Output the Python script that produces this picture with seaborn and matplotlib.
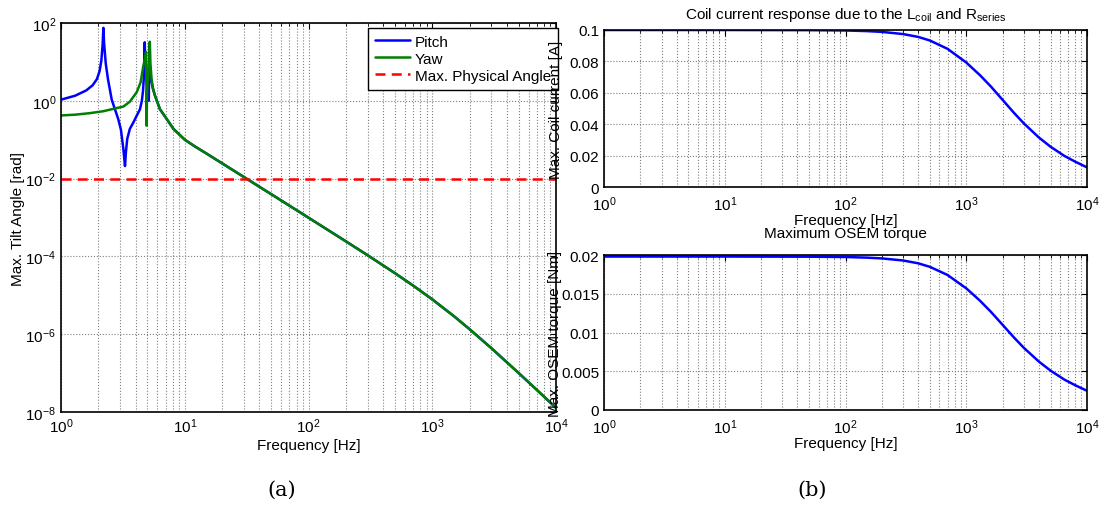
import numpy as np
import matplotlib
matplotlib.use('Agg')
import matplotlib.pyplot as plt
import seaborn as sns
from matplotlib.ticker import LogLocator, NullLocator, NullFormatter

# --- data ---
pitch_freq_low = [1.0, 1.3, 1.6, 1.8, 1.95, 2.05, 2.12, 2.17, 2.2, 2.23, 2.3, 2.4,
                  2.57, 2.9, 3.05, 3.19, 3.29, 3.35, 3.43, 3.6, 3.85, 4.1, 4.35, 4.5,
                  4.6, 4.67, 4.72, 4.75, 4.78, 4.85, 4.95, 5.05, 5.12, 5.15, 5.17,
                  5.2, 5.3, 5.5, 5.75, 6.3, 7.15, 8.1]
pitch_low = [1.07, 1.35, 1.85, 2.5, 3.6, 5.8, 11, 28, 75, 30, 9, 3.5,
             1.07, 0.34, 0.18, 0.058, 0.021, 0.05, 0.105, 0.19, 0.28, 0.42, 0.61, 1.0,
             1.8, 4, 12, 32, 12, 5, 2.5, 1.5, 1.0, 8, 30,
             10, 4, 2.2, 1.35, 0.61, 0.34, 0.19]

yaw_freq_low = [1.0, 1.3, 1.7, 2.2, 2.7, 3.19, 3.6, 4.09, 4.4, 4.63, 4.78, 4.87,
                4.9, 4.92, 4.95, 5.05, 5.15, 5.22, 5.28, 5.4, 5.55, 5.75, 6.3,
                7.15, 8.1]
yaw_low = [0.42, 0.44, 0.48, 0.54, 0.63, 0.71, 0.95, 1.66, 3.0, 7.9, 13, 18,
           3, 0.23, 1.5, 4, 9, 33, 9, 3.5, 2.0, 1.35, 0.61,
           0.34, 0.19]

tail_freq = [10, 12, 15, 20, 31.5, 50, 100, 200, 300, 500, 700, 1000, 1500,
             2000, 3000, 5000, 7000, 10000]
tail_angle = [0.1, 0.068, 0.044, 0.0248, 0.01, 0.00397, 9.89e-4, 2.45e-4,
              1.074e-4, 3.70e-5, 1.78e-5, 7.87e-6, 2.89e-6, 1.35e-6, 4.39e-7,
              1.0e-7, 3.7e-8, 1.28e-8]

max_angle = 0.01

coil_freq = [1, 10, 50, 100, 150, 200, 300, 400, 500, 700, 1000, 1300, 1600,
             2000, 2500, 3000, 4000, 5000, 6500, 8000, 10000]
coil_current = [0.1, 0.1, 0.0999, 0.0997, 0.0993, 0.0988, 0.0974, 0.0956,
                0.0933, 0.0880, 0.0793, 0.0712, 0.0640, 0.0555, 0.0470, 0.0405,
                0.0315, 0.0256, 0.0198, 0.0161, 0.0125]
osem_torque = [0.0198, 0.0198, 0.01978, 0.01974, 0.01966, 0.01956, 0.01929,
               0.01893, 0.01847, 0.01742, 0.0157, 0.0141, 0.01267, 0.01099,
               0.00931, 0.00802, 0.00624, 0.00507, 0.00392, 0.00319, 0.00248]

pitch_freq = pitch_freq_low + tail_freq
pitch_angle = pitch_low + tail_angle
yaw_freq = yaw_freq_low + tail_freq
yaw_angle = yaw_low + tail_angle

# --- style ---
sns.set_style('white')
plt.rcParams['font.family'] = ['Liberation Sans', 'DejaVu Sans']
plt.rcParams['mathtext.fontset'] = 'custom'
plt.rcParams['mathtext.rm'] = 'Liberation Sans'
plt.rcParams['mathtext.it'] = 'Liberation Sans:italic'
plt.rcParams['mathtext.bf'] = 'Liberation Sans:bold'
plt.rcParams['font.size'] = 11
plt.rcParams['text.color'] = 'black'
plt.rcParams['axes.labelcolor'] = 'black'
plt.rcParams['xtick.color'] = 'black'
plt.rcParams['ytick.color'] = 'black'


def style_axes(ax, xpad=2, tickpad=3.5):
    for s in ax.spines.values():
        s.set_color('black')
        s.set_linewidth(1.2)
    ax.set_xscale('log')
    ax.set_xlim(1, 1e4)
    ax.set_xticks([1, 10, 100, 1000, 10000])
    ax.xaxis.set_minor_locator(LogLocator(base=10, subs=np.arange(2, 10), numticks=20))
    ax.xaxis.set_minor_formatter(NullFormatter())
    ax.tick_params(which='both', direction='in', top=True, right=True, labelsize=11)
    ax.tick_params(which='major', length=4, width=0.8)
    ax.tick_params(which='minor', length=2, width=0.6)
    ax.tick_params(axis='x', which='major', pad=tickpad)
    ax.grid(True, which='major', ls=':', color='0.5', lw=0.8)
    ax.xaxis.grid(True, which='minor', ls=':', color='0.5', lw=0.8)
    ax.set_xlabel('Frequency [Hz]', fontsize=11, labelpad=xpad)


fig = plt.figure(figsize=(11.02, 5.10), dpi=100)

# (a) tilt angle
ax1 = fig.add_axes([61 / 1102, 1 - 413 / 510, 495 / 1102, 389 / 510])
sns.lineplot(x=pitch_freq, y=pitch_angle, ax=ax1, color='#0000FF', lw=1.8, label='Pitch')
sns.lineplot(x=yaw_freq, y=yaw_angle, ax=ax1, color='#008000', lw=1.8, label='Yaw')
ax1.axhline(max_angle, color='#FF0000', ls='--', lw=1.8, dashes=(4, 2.5),
            label='Max. Physical Angle')
style_axes(ax1)
ax1.set_yscale('log')
ax1.set_ylim(1e-8, 1e2)
ax1.set_yticks([1e-8, 1e-6, 1e-4, 1e-2, 1e0, 1e2])
ax1.yaxis.set_minor_locator(NullLocator())
ax1.set_ylabel('Max. Tilt Angle [rad]', fontsize=11)
ax1.yaxis.set_label_coords(-0.072, 0.5)
leg = ax1.legend(loc='upper right', bbox_to_anchor=(1.004, 0.988), borderaxespad=0,
                 fancybox=False, framealpha=1, edgecolor='black', fontsize=11,
                 handlelength=2.3, handletextpad=0.3, labelspacing=0.2, borderpad=0.45)
leg.get_frame().set_linewidth(1.0)

# (b) coil current
ax2 = fig.add_axes([604 / 1102, 1 - 188 / 510, 483 / 1102, 157 / 510])
sns.lineplot(x=coil_freq, y=coil_current, ax=ax2, color='#0000FF', lw=1.8)
style_axes(ax2, xpad=-0.5, tickpad=5.5)
ax2.set_ylim(0, 0.1)
ax2.set_yticks([0, 0.02, 0.04, 0.06, 0.08, 0.1])
ax2.set_yticklabels(['0', '0.02', '0.04', '0.06', '0.08', '0.1'])
ax2.set_ylabel('Max. Coil current [A]', fontsize=11)
ax2.yaxis.set_label_coords(-0.085, 0.5)
ax2.set_title(r'Coil current response due to the L$_{\mathrm{coil}}$ and R$_{\mathrm{series}}$',
              fontsize=11, pad=9)

# (b) OSEM torque
ax3 = fig.add_axes([604 / 1102, 1 - 411 / 510, 483 / 1102, 155 / 510])
sns.lineplot(x=coil_freq, y=osem_torque, ax=ax3, color='#0000FF', lw=1.8)
style_axes(ax3, xpad=0, tickpad=5.5)
ax3.set_ylim(0, 0.02)
ax3.set_yticks([0, 0.005, 0.01, 0.015, 0.02])
ax3.set_yticklabels(['0', '0.005', '0.01', '0.015', '0.02'])
ax3.set_ylabel('Max. OSEM torque [Nm]', fontsize=11)
ax3.yaxis.set_label_coords(-0.087, 0.5)
ax3.set_title('Maximum OSEM torque', fontsize=11, pad=13)

fig.text(282 / 1102, 1 - 490 / 510, '(a)', ha='center', va='center',
         fontsize=15, family='DejaVu Serif')
fig.text(812 / 1102, 1 - 490 / 510, '(b)', ha='center', va='center',
         fontsize=15, family='DejaVu Serif')

fig.savefig('out.png', dpi=100)
